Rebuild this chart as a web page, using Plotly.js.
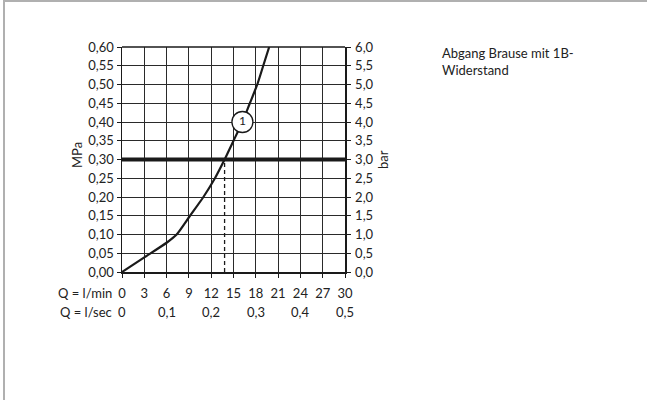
<!DOCTYPE html>
<html>
<head>
<meta charset="utf-8">
<script src="https://cdn.plot.ly/plotly-3.0.1.min.js"></script>
<style>
  html, body { margin: 0; padding: 0; background: #fff; }
  #wrap { position: relative; width: 647px; height: 400px; }
  #chart { position: absolute; left: 0; top: 0; width: 647px; height: 400px; }
  #frame { position: absolute; left: 3px; top: 0; width: 644px; height: 400px;
           border-top: 2px solid #b0b0b0; border-left: 2px solid #b0b0b0;
           box-sizing: border-box; pointer-events: none; }
</style>
</head>
<body>
<div id="wrap"><div id="chart"></div><div id="frame"></div></div>
<script>
// Curve: flow Q (l/min) vs pressure (MPa)
const flowLmin = [0, 3, 6, 7.35, 9.15, 10.95, 12.5, 13.8, 15, 16.2, 17.2, 18.2, 19, 19.8];
const pressureMPa = [0, 0.039, 0.078, 0.10, 0.15, 0.20, 0.25, 0.30, 0.35, 0.40, 0.45, 0.50, 0.55, 0.60];

// Reference pressure line and operating point
const refPressure = 0.30;
const operatingFlow = 13.8;

// Curve marker "1"
const markerFlow = [16.2];
const markerPressure = [0.40];
const markerLabel = ['1'];

// Tick labels
const lminTicks = [0, 3, 6, 9, 12, 15, 18, 21, 24, 27, 30];
const lsecPositions = [0, 6, 12, 18, 24, 30];
const lsecLabels = ['0', '0,1', '0,2', '0,3', '0,4', '0,5'];

const legendText = 'Abgang Brause mit 1B-<br>Widerstand';

const FONT = 'Lato, "Open Sans", sans-serif';
const INK = '#1a1a1a';
const TXT = '#222';
const FS = 13;

const traces = [
  {
    x: flowLmin, y: pressureMPa, type: 'scatter', mode: 'lines',
    line: { color: INK, width: 2.2, shape: 'spline', smoothing: 0.6 },
    hoverinfo: 'skip', showlegend: false
  },
  {
    x: [0, 30], y: [refPressure, refPressure], type: 'scatter', mode: 'lines',
    line: { color: INK, width: 4 }, showlegend: false, hoverinfo: 'skip'
  },
  {
    x: [operatingFlow, operatingFlow], y: [0, refPressure], type: 'scatter', mode: 'lines',
    line: { color: INK, width: 1.3, dash: '4px,3px' }, showlegend: false, hoverinfo: 'skip'
  },
  {
    x: markerFlow, y: markerPressure, type: 'scatter', mode: 'markers+text',
    marker: { size: 21, color: '#ffffff', line: { color: INK, width: 1.3 } },
    text: markerLabel, textposition: 'middle center',
    textfont: { family: FONT, size: 12, color: INK },
    showlegend: false, hoverinfo: 'skip'
  },
  {
    x: [0, 30], y: [0, 6], yaxis: 'y2', type: 'scatter', mode: 'lines',
    line: { color: 'rgba(0,0,0,0)', width: 0 }, showlegend: false, hoverinfo: 'skip'
  }
];

const annotations = [
  { xref: 'paper', yref: 'paper', x: -0.036, y: -0.093, xanchor: 'right', yanchor: 'middle',
    text: 'Q = l/min', showarrow: false, font: { family: FONT, size: FS, color: TXT } },
  { xref: 'paper', yref: 'paper', x: -0.036, y: -0.176, xanchor: 'right', yanchor: 'middle',
    text: 'Q = l/sec', showarrow: false, font: { family: FONT, size: FS, color: TXT } },
  { xref: 'paper', yref: 'paper', x: -0.202, y: 0.52, xanchor: 'center', yanchor: 'middle',
    text: 'MPa', textangle: -90, showarrow: false, font: { family: FONT, size: FS, color: TXT } },
  { xref: 'paper', yref: 'paper', x: 1.168, y: 0.50, xanchor: 'center', yanchor: 'middle',
    text: 'bar', textangle: -90, showarrow: false, font: { family: FONT, size: FS, color: TXT } },
  { xref: 'paper', yref: 'paper', x: 1.426, y: 1.02, xanchor: 'left', yanchor: 'top', align: 'left',
    text: legendText, showarrow: false, font: { family: FONT, size: FS, color: TXT } }
];
lsecPositions.forEach((p, i) => {
  annotations.push({ xref: 'x', yref: 'paper', x: p, y: -0.176, xanchor: 'center', yanchor: 'middle',
    text: lsecLabels[i], showarrow: false, font: { family: FONT, size: FS, color: TXT } });
});

const layout = {
  width: 647, height: 400,
  margin: { l: 122, r: 302, t: 47, b: 128, pad: 0 },
  paper_bgcolor: '#ffffff', plot_bgcolor: '#ffffff',
  separators: ',.',
  font: { family: FONT, size: FS, color: TXT },
  showlegend: false,
  xaxis: {
    range: [0, 30], tickvals: lminTicks, ticktext: lminTicks.map(String),
    showgrid: true, gridcolor: '#2a2a2a', gridwidth: 1,
    zeroline: false, showline: true, linecolor: INK, linewidth: 1.5,
    ticks: 'outside', ticklen: 4, tickcolor: INK, tickwidth: 1,
    ticklabelstandoff: 5,
    tickfont: { family: FONT, size: FS, color: TXT },
    fixedrange: true
  },
  yaxis: {
    range: [0, 0.6], dtick: 0.05, tick0: 0, tickformat: '.2f',
    showgrid: true, gridcolor: '#2a2a2a', gridwidth: 1,
    zeroline: false, showline: true, linecolor: INK, linewidth: 1.5,
    ticks: 'outside', ticklen: 4, tickcolor: INK, tickwidth: 1,
    tickfont: { family: FONT, size: FS, color: TXT }, fixedrange: true
  },
  yaxis2: {
    range: [0, 6], dtick: 0.5, tick0: 0, tickformat: '.1f',
    overlaying: 'y', side: 'right', anchor: 'x',
    showgrid: false, zeroline: false, showline: true, linecolor: INK, linewidth: 1.5,
    ticks: 'outside', ticklen: 4, tickcolor: INK, tickwidth: 1,
    ticklabelstandoff: 2,
    tickfont: { family: FONT, size: FS, color: TXT }, fixedrange: true
  },
  shapes: [
    { type: 'line', xref: 'paper', yref: 'paper', x0: 0, x1: 1, y0: 1, y1: 1,
      line: { color: INK, width: 1.5 } }
  ],
  annotations: annotations
};

Plotly.newPlot('chart', traces, layout, { displayModeBar: false, staticPlot: true });
</script>
</body>
</html>
